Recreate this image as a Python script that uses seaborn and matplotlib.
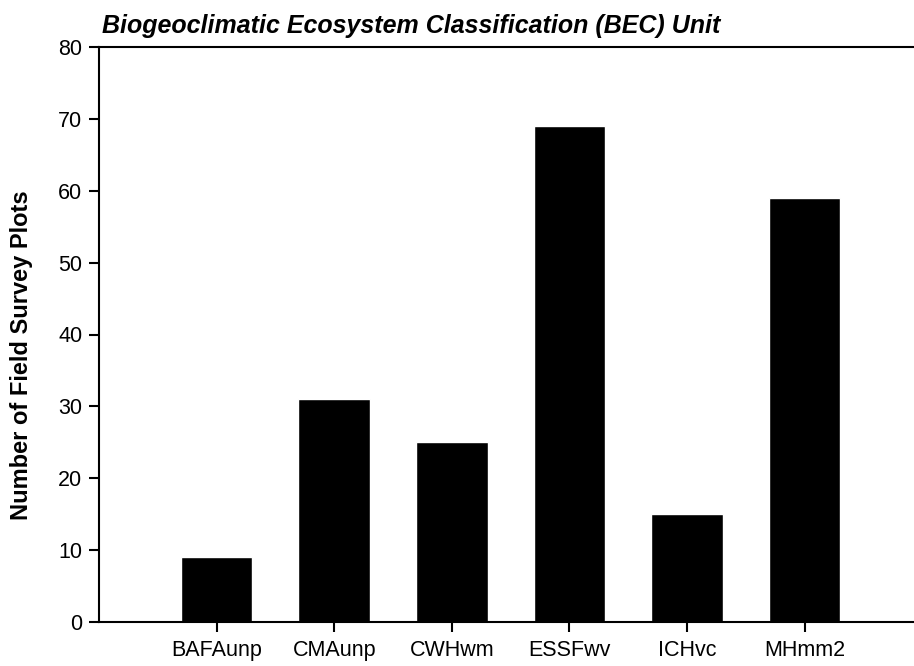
import matplotlib
matplotlib.use("Agg")
import matplotlib.pyplot as plt
import seaborn as sns

units = ["BAFAunp", "CMAunp", "CWHwm", "ESSFwv", "ICHvc", "MHmm2"]
plots = [9, 31, 25, 69, 15, 59]

sns.set_style("ticks")
plt.rcParams["font.family"] = ["Liberation Sans", "DejaVu Sans"]
plt.rcParams["text.color"] = "black"

fig = plt.figure(figsize=(9.14, 6.66), dpi=100)
# axes runs off the right edge, as in the reference
ax = fig.add_axes([99 / 914, 44 / 666, 815 / 914, 575 / 666])

sns.barplot(x=list(range(len(units))), y=plots, color="black", width=0.61,
            saturation=1, ax=ax, native_scale=True)

ax.set_xlim(-1.0, 5.93)
ax.set_ylim(0, 80)
ax.set_yticks(range(0, 81, 10))
ax.set_xticks(range(len(units)))
ax.set_xticklabels(units)
ax.tick_params(axis="both", labelsize=15.5, width=1.5, length=7, color="black", labelcolor="black")
ax.tick_params(axis="x", pad=6)
ax.tick_params(axis="y", pad=5)

for s in ["left", "bottom", "top"]:
    ax.spines[s].set_linewidth(1.5)
    ax.spines[s].set_color("black")
ax.spines["right"].set_visible(False)

ax.set_ylabel("Number of Field Survey Plots", fontsize=17, fontweight="bold", color="black")
ax.yaxis.set_label_coords(-0.081, 0.464)
ax.set_xlabel("")
fig.text(102 / 914, 1 - 33 / 666, "Biogeoclimatic Ecosystem Classification (BEC) Unit",
         fontsize=18, fontweight="bold", fontstyle="italic", ha="left", va="baseline",
         color="black")

fig.savefig("out.png", dpi=100)
